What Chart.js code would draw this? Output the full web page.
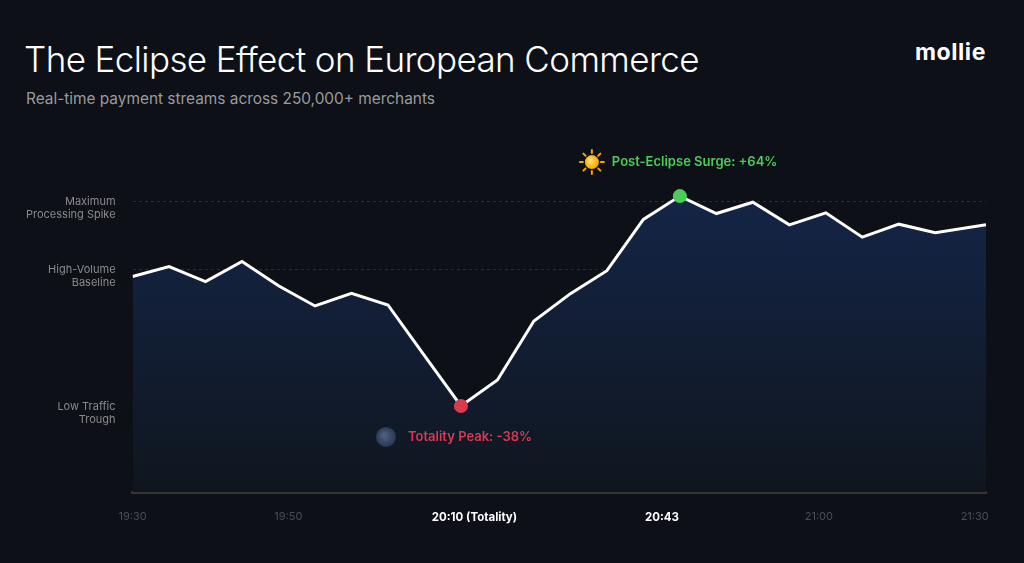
<!DOCTYPE html>
<html>
<head>
<meta charset="utf-8">
<script src="https://cdn.jsdelivr.net/npm/chart.js@4.4.1/dist/chart.umd.min.js"></script>
<style>
  html, body { margin: 0; padding: 0; background: #0d1017; }
  body { width: 1024px; height: 563px; position: relative; overflow: hidden; font-family: Inter, "Noto Sans", sans-serif; }
  #title { position: absolute; left: 24px; top: 42px; margin: 0; font-size: 35px; font-weight: 300; line-height: 1; color: #ffffff; letter-spacing: -0.6px; }
  #subtitle { position: absolute; left: 26px; top: 91px; margin: 0; font-size: 15.4px; font-weight: 400; line-height: 1; color: #9b9b9b; }
  #logo { position: absolute; right: 38px; top: 41px; font-size: 23px; font-weight: 700; line-height: 1; color: #ffffff; letter-spacing: 0.6px; }
  #wrap { position: absolute; left: 0; top: 0; width: 1024px; height: 563px; }
</style>
</head>
<body>
<h1 id="title">The Eclipse Effect on European Commerce</h1>
<p id="subtitle">Real-time payment streams across 250,000+ merchants</p>
<div id="logo">mollie</div>
<div id="wrap"><canvas id="eclipseChart"></canvas></div>

<script>
// Data (index units on x, relative volume on y)
const pointIndex = [0, 1, 2, 3, 4, 5, 6, 7, 8, 9, 10, 11, 12, 13, 14, 15, 16, 17, 18, 19, 20, 21, 22, 23.39];
const volume = [98.0, 100.9, 96.5, 102.4, 95.3, 89.4, 93.1, 89.7, 74.9, 60.2, 67.8, 85.0, 93.0, 99.7,
                114.7, 121.5, 116.4, 119.7, 113.1, 116.6, 109.5, 113.3, 110.8, 113.1];

// x axis labels and where they sit on the index scale
const timeLabels = ['19:30', '19:50', '20:10 (Totality)', '20:43', '21:00', '21:30'];
const timeTicks = [0, 4.27, 9.37, 14.51, 18.81, 23.08];
const highlightTimes = ['20:10 (Totality)', '20:43'];

// y axis reference levels
const levelValues = [60, 100, 120];
const levelLabels = [['', 'Low Traffic', 'Trough'], ['', 'High-Volume', 'Baseline'], ['', 'Maximum', 'Processing Spike']];

const troughIdx = 9;
const surgeIdx = 15;
const troughText = 'Totality Peak: -38%';
const surgeText = 'Post-Eclipse Surge: +64%';

const RED = '#d83a50';
const GREEN = '#4ccb5b';

function drawSun(ctx, x, y) {
    ctx.save();
    ctx.strokeStyle = '#f0a500';
    ctx.lineWidth = 2;
    ctx.lineCap = 'round';
    for (let i = 0; i < 8; i++) {
        const a = i * Math.PI / 4;
        ctx.beginPath();
        ctx.moveTo(x + Math.cos(a) * 9, y + Math.sin(a) * 9);
        ctx.lineTo(x + Math.cos(a) * 12, y + Math.sin(a) * 12);
        ctx.stroke();
    }
    const g = ctx.createRadialGradient(x - 2, y - 2, 1, x, y, 7);
    g.addColorStop(0, '#ffe066');
    g.addColorStop(1, '#f5a800');
    ctx.fillStyle = g;
    ctx.beginPath();
    ctx.arc(x, y, 7, 0, Math.PI * 2);
    ctx.fill();
    ctx.restore();
}

function drawMoon(ctx, x, y) {
    ctx.save();
    const g = ctx.createRadialGradient(x - 2, y - 2, 1, x, y, 10);
    g.addColorStop(0, '#4c6080');
    g.addColorStop(1, '#2a3852');
    ctx.fillStyle = g;
    ctx.beginPath();
    ctx.arc(x, y, 10, 0, Math.PI * 2);
    ctx.fill();
    ctx.restore();
}

// Annotation labels next to the two highlighted points
const annotations = {
    id: 'annotations',
    afterDatasetsDraw(chart) {
        const ctx = chart.ctx;
        const meta = chart.getDatasetMeta(0);
        const low = meta.data[troughIdx];
        const high = meta.data[surgeIdx];
        ctx.save();
        ctx.font = '600 13px Inter, "Noto Sans", sans-serif';
        ctx.textBaseline = 'middle';
        ctx.textAlign = 'left';

        drawMoon(ctx, low.x - 75, low.y + 31);
        ctx.fillStyle = RED;
        ctx.fillText(troughText, low.x - 53, low.y + 31);

        drawSun(ctx, high.x - 88, high.y - 34);
        ctx.fillStyle = GREEN;
        ctx.fillText(surgeText, high.x - 68, high.y - 34);
        ctx.restore();
    }
};

const ctx = document.getElementById('eclipseChart').getContext('2d');
const chart = new Chart(ctx, {
    type: 'line',
    data: {
        datasets: [{
            data: pointIndex.map((x, i) => ({ x: x, y: volume[i] })),
            borderColor: '#ffffff',
            borderWidth: 3,
            tension: 0,
            fill: 'start',
            backgroundColor: (c) => {
                const area = c.chart.chartArea;
                if (!area) return '#13223a';
                const g = c.chart.ctx.createLinearGradient(0, area.top, 0, area.bottom);
                g.addColorStop(0, '#14264a');
                g.addColorStop(1, '#10161f');
                return g;
            },
            pointRadius: volume.map((v, i) => (i === troughIdx || i === surgeIdx) ? 7 : 0),
            pointBackgroundColor: volume.map((v, i) => i === troughIdx ? RED : GREEN),
            pointBorderWidth: 0,
            pointHoverRadius: 7,
        }],
    },
    options: {
        responsive: true,
        maintainAspectRatio: false,
        animation: false,
        layout: { padding: { left: 9, right: 38, top: 167, bottom: 21 } },
        plugins: {
            legend: { display: false },
            tooltip: { enabled: false },
        },
        scales: {
            x: {
                type: 'linear',
                min: 0,
                max: pointIndex[pointIndex.length - 1],
                afterBuildTicks: (axis) => { axis.ticks = timeTicks.map(v => ({ value: v })); },
                grid: { display: false, drawTicks: false },
                border: { display: true, color: '#3a3532', width: 3 },
                ticks: {
                    autoSkip: false,
                    maxRotation: 0,
                    padding: 18,
                    callback: (value, index) => timeLabels[index],
                    color: (c) => highlightTimes.includes(timeLabels[c.index]) ? '#ffffff' : '#4a4e57',
                    font: (c) => highlightTimes.includes(timeLabels[c.index])
                        ? { family: 'Inter', size: 11.5, weight: '700' }
                        : { family: 'Inter', size: 11, weight: '400' },
                },
            },
            y: {
                min: 35,
                max: 130,
                afterBuildTicks: (axis) => { axis.ticks = levelValues.map(v => ({ value: v })); },
                grid: { color: '#2a2e37', lineWidth: 1, drawTicks: false },
                border: { display: false, dash: [3, 3] },
                ticks: {
                    padding: 17,
                    color: '#8a8a8a',
                    font: { family: 'Inter', size: 11 },
                    callback: (value, index) => levelLabels[index],
                },
            },
        },
    },
    plugins: [annotations],
});
</script>
</body>
</html>
